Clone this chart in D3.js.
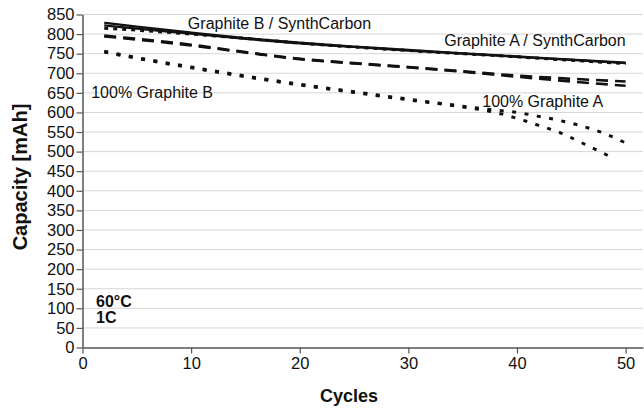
<!DOCTYPE html>
<html>
<head>
<meta charset="utf-8">
<script src="https://cdn.jsdelivr.net/npm/d3@7"></script>
<style>
  body { margin: 0; background: #fff; }
  svg { display: block; font-family: "Liberation Sans", Arial, sans-serif; }
</style>
</head>
<body>
<svg id="chart" width="644" height="410"></svg>
<script>
// cycle numbers and capacities (mAh)
const cycles = [2, 5, 10, 15, 20, 25, 30, 35, 40, 45, 50];
const solidB = [829, 819, 804, 790, 778, 768, 760, 751, 743, 735, 727];
const solidA = [822, 814, 801, 788, 776, 767, 758, 750, 742, 734, 726];
const dotTop = [815, 810, 800, 789, 777, 767, 758, 750, 742, 733, 725];
const dashA = [796, 788, 773, 754, 737, 726, 716, 705, 694, 686, 679];
const dashB = [794, 786, 771, 753, 736, 725, 715, 704, 691, 679, 668];

const cyclesDotA = [2, 5, 10, 15, 20, 25, 30, 35, 38, 40, 42, 44, 46, 48, 50];
const dotA = [756, 740, 716, 693, 672, 653, 634, 616, 606, 600, 590, 579, 565, 547, 522];
const cyclesDotB = [2, 5, 10, 15, 20, 25, 30, 35, 38, 40, 42, 44, 46, 48, 49];
const dotB = [754, 738, 714, 691, 670, 651, 632, 614, 600, 585, 567, 548, 522, 495, 481];

const yTicks = d3.range(0, 851, 50);
const xTicks = [0, 10, 20, 30, 40, 50];

const labels = [
  { text: "Graphite B / SynthCarbon", c: 9.7, v: 812 },
  { text: "Graphite A / SynthCarbon", c: 33.3, v: 769 },
  { text: "100% Graphite B", c: 0.8, v: 638 },
  { text: "100% Graphite A", c: 36.8, v: 614 }
];
const conditions = ["60°C", "1C"];

const svg = d3.select("#chart");
const x = d3.scaleLinear().domain([0, 51.6]).range([82.5, 643]);
const y = d3.scaleLinear().domain([0, 850]).range([347.5, 14.5]);

// grid
svg.append("g")
  .selectAll("line")
  .data(yTicks.filter(d => d > 0))
  .join("line")
  .attr("x1", x(0)).attr("x2", 643)
  .attr("y1", d => y(d)).attr("y2", d => y(d))
  .attr("stroke", "#d6d6d6").attr("stroke-width", 1);

// axes
const yAxis = svg.append("g")
  .attr("transform", `translate(${x(0)},0)`)
  .call(d3.axisLeft(y).tickValues(yTicks).tickSize(6).tickPadding(2).tickSizeOuter(0));
const xAxis = svg.append("g")
  .attr("transform", `translate(0,${y(0)})`)
  .call(d3.axisBottom(x).tickValues(xTicks).tickSize(6).tickPadding(4).tickSizeOuter(0));

[xAxis, yAxis].forEach(g => {
  g.select(".domain").attr("stroke", "#555").attr("stroke-width", 1.5);
  g.selectAll(".tick line").attr("stroke", "#555").attr("stroke-width", 1.2);
  g.selectAll("text").attr("fill", "#111").style("font-size", "16.5px")
    .style("font-family", "'Liberation Sans', Arial, sans-serif");
});

const line = d3.line()
  .x(d => x(d[0]))
  .y(d => y(d[1]))
  .curve(d3.curveMonotoneX);

const series = [
  { cs: cyclesDotA, vs: dotA, w: 3, dash: "4,8.5" },
  { cs: cyclesDotB, vs: dotB, w: 3, dash: "4,8.5" },
  { cs: cycles, vs: dashA, w: 2.6, dash: "12,7" },
  { cs: cycles, vs: dashB, w: 2.6, dash: "12,7" },
  { cs: cycles, vs: dotTop, w: 3, dash: "4,5" },
  { cs: cycles, vs: solidA, w: 2.2, dash: null },
  { cs: cycles, vs: solidB, w: 2.2, dash: null }
];

svg.append("g")
  .selectAll("path")
  .data(series)
  .join("path")
  .attr("d", s => line(s.cs.map((c, i) => [c, s.vs[i]])))
  .attr("fill", "none")
  .attr("stroke", "#111")
  .attr("stroke-width", s => s.w)
  .attr("stroke-dasharray", s => s.dash);

// series labels
svg.append("g")
  .selectAll("text")
  .data(labels)
  .join("text")
  .attr("x", d => x(d.c))
  .attr("y", d => y(d.v))
  .attr("fill", "#111")
  .style("font-size", "16px")
  .text(d => d.text);

// test conditions, one text block
svg.append("text")
  .attr("font-weight", "bold").style("font-size", "16px").attr("fill", "#111")
  .selectAll("tspan")
  .data(conditions)
  .join("tspan")
  .attr("x", 96)
  .attr("y", (d, i) => 307 + i * 16)
  .text(d => d);

// axis titles
svg.append("text")
  .attr("x", 349).attr("y", 402)
  .attr("text-anchor", "middle")
  .attr("font-weight", "bold").style("font-size", "18px").attr("fill", "#111")
  .text("Cycles");
svg.append("text")
  .attr("transform", "translate(27,177) rotate(-90)")
  .attr("text-anchor", "middle")
  .attr("font-weight", "bold").style("font-size", "20px").attr("fill", "#111")
  .text("Capacity [mAh]");
</script>
</body>
</html>
